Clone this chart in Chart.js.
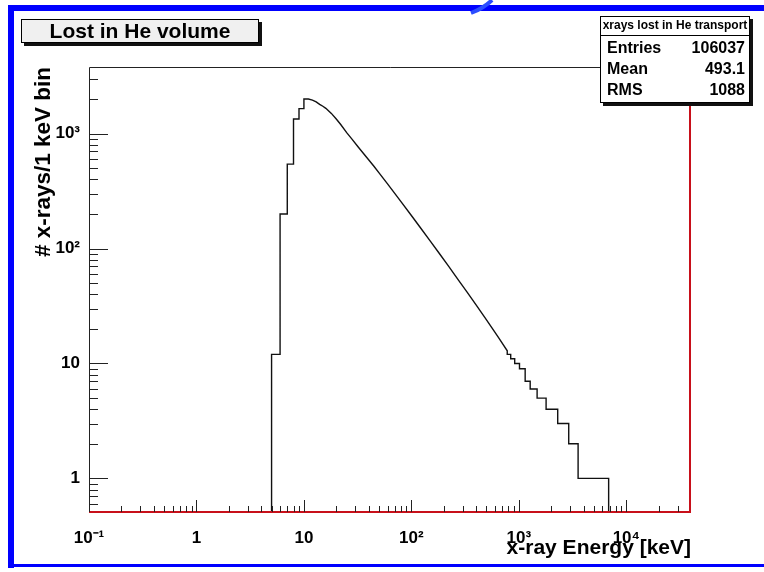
<!DOCTYPE html>
<html>
<head>
<meta charset="utf-8">
<script src="https://cdn.jsdelivr.net/npm/chart.js@4"></script>
<style>
  html, body { margin: 0; padding: 0; background: #fff; }
  #wrap { width: 764px; height: 572px; }
</style>
</head>
<body>
<div id="wrap"><canvas id="canvas" width="764" height="572"></canvas></div>
<script>
// first bins of the spectrum, 1 keV wide (edges in keV, counts per bin)
const lowEdges = [5, 6, 7, 8, 9, 10]
const lowCounts = [12, 200, 543, 1340, 1650]

// smooth falling part (energy in keV, counts per 1 keV bin)
const midEnergy = [10, 11, 12, 13, 14, 15, 16, 18, 20, 22, 25, 28, 32, 36, 40, 45, 50, 60, 70, 80, 100, 120, 150, 180, 220, 270, 330, 400, 480, 560, 650, 780]
const midCounts = [2000, 2000, 1960, 1890, 1800, 1730, 1660, 1500, 1340, 1200, 1020, 895, 765, 668, 592, 518, 456, 365, 302, 256, 194, 154, 116, 92, 71, 54.3, 41.7, 32.3, 25.3, 20.5, 16.7, 12.9]

// high energy tail, flat steps
const tailEdges = [780, 840, 915, 1014, 1145, 1275, 1479, 1793, 2300, 2912, 3560, 6850]
const tailCounts = [12, 11, 10, 9, 7, 6, 5, 4, 3, 2, 1]

const xTicks = [0.1, 1, 10, 100, 1000, 10000]
const xTickLabels = ["10⁻¹", "1", "10", "10²", "10³", "10⁴"]
const yTicks = [1, 10, 100, 1000]
const yTickLabels = ["1", "10", "10²", "10³"]

const histTitle = "Lost in He volume"
const statsTitle = "xrays lost in He transport"
const statsNames = ["Entries", "Mean", "RMS"]
const statsValues = ["106037", "493.1", "1088"]

const FONT = "'Liberation Sans', Arial, Helvetica, sans-serif"
const floorValue = 0.01

// histogram outline as a list of points
const points = []
points.push({x: lowEdges[0], y: floorValue})
for (let i = 0; i < lowCounts.length; i++) {
  points.push({x: lowEdges[i], y: lowCounts[i]})
  points.push({x: lowEdges[i + 1], y: lowCounts[i]})
}
for (let i = 0; i < midEnergy.length; i++)
  points.push({x: midEnergy[i], y: midCounts[i]})
for (let i = 0; i < tailCounts.length; i++) {
  points.push({x: tailEdges[i], y: tailCounts[i]})
  points.push({x: tailEdges[i + 1], y: tailCounts[i]})
}
points.push({x: tailEdges[tailEdges.length - 1], y: floorValue})

function minorValues(min, max) {
  const out = []
  for (let d = Math.floor(Math.log10(min)); d <= Math.ceil(Math.log10(max)); d++)
    for (let m = 2; m <= 9; m++) {
      const v = m * Math.pow(10, d)
      if (v > min && v < max) out.push(v)
    }
  return out
}

const rootStyle = {
  id: "rootStyle",
  beforeDraw(chart) {
    const ctx = chart.ctx
    ctx.save()
    ctx.fillStyle = "#ffffff"
    ctx.fillRect(0, 0, chart.width, chart.height)
    // blue slide border
    ctx.fillStyle = "#0000ff"
    ctx.fillRect(8, 5, 756, 6)
    ctx.fillRect(8, 5, 6, 563)
    ctx.fillRect(8, 564, 756, 3)
    ctx.strokeStyle = "#2b4dff"
    ctx.lineWidth = 4
    ctx.beginPath()
    ctx.moveTo(492, 0)
    ctx.quadraticCurveTo(484, 8, 471, 13)
    ctx.stroke()
    ctx.restore()
  },
  afterDraw(chart) {
    const ctx = chart.ctx
    const {left, right, top, bottom} = chart.chartArea
    const xs = chart.scales.x
    const ys = chart.scales.y
    ctx.save()

    // frame
    ctx.lineWidth = 1
    ctx.strokeStyle = "#222"
    ctx.beginPath()
    ctx.moveTo(left + 0.5, bottom)
    ctx.lineTo(left + 0.5, top + 0.5)
    ctx.lineTo(right, top + 0.5)
    ctx.stroke()
    ctx.strokeStyle = "#c8101a"
    ctx.lineWidth = 2
    ctx.beginPath()
    ctx.moveTo(right - 1, top)
    ctx.lineTo(right - 1, bottom - 1)
    ctx.lineTo(left, bottom - 1)
    ctx.stroke()

    // ticks pointing into the frame
    ctx.lineWidth = 1
    ctx.strokeStyle = "#222"
    ctx.beginPath()
    for (const v of xTicks) {
      const px = Math.round(xs.getPixelForValue(v)) + 0.5
      ctx.moveTo(px, bottom - 1); ctx.lineTo(px, bottom - 13)
    }
    for (const v of minorValues(xs.min, xs.max)) {
      const px = Math.round(xs.getPixelForValue(v)) + 0.5
      ctx.moveTo(px, bottom - 1); ctx.lineTo(px, bottom - 7)
    }
    for (const v of yTicks) {
      const py = Math.round(ys.getPixelForValue(v)) + 0.5
      ctx.moveTo(left, py); ctx.lineTo(left + 19, py)
    }
    for (const v of minorValues(ys.min, ys.max)) {
      const py = Math.round(ys.getPixelForValue(v)) + 0.5
      ctx.moveTo(left, py); ctx.lineTo(left + 9, py)
    }
    ctx.stroke()

    // title box
    ctx.fillStyle = "#111"
    ctx.fillRect(24, 22, 238, 24)
    ctx.fillStyle = "#f0f0f0"
    ctx.fillRect(21, 19, 238, 24)
    ctx.strokeStyle = "#000"
    ctx.strokeRect(21.5, 19.5, 237, 23)
    ctx.fillStyle = "#000"
    ctx.font = "bold 21px " + FONT
    ctx.textAlign = "center"
    ctx.textBaseline = "middle"
    ctx.fillText(histTitle, 140, 32)

    // statistics box
    ctx.fillStyle = "#111"
    ctx.fillRect(603, 19, 150, 87)
    ctx.fillStyle = "#fff"
    ctx.fillRect(600, 16, 150, 87)
    ctx.strokeRect(600.5, 16.5, 149, 86)
    ctx.beginPath()
    ctx.moveTo(600, 35.5); ctx.lineTo(750, 35.5)
    ctx.stroke()
    ctx.fillStyle = "#000"
    ctx.font = "bold 12px " + FONT
    ctx.fillText(statsTitle, 675, 26)
    ctx.font = "bold 16px " + FONT
    statsNames.forEach((name, i) => {
      const y = 49 + i * 21
      ctx.textAlign = "left"
      ctx.fillText(name, 607, y)
      ctx.textAlign = "right"
      ctx.fillText(statsValues[i], 745, y)
    })
    ctx.restore()
  }
}

new Chart(document.getElementById("canvas"), {
  type: "line",
  data: {
    datasets: [{
      data: points,
      borderColor: "#111",
      borderWidth: 1.4,
      pointRadius: 0,
      tension: 0,
      fill: false
    }]
  },
  options: {
    responsive: false,
    animation: false,
    devicePixelRatio: 1,
    layout: { padding: { left: 0, top: 67, right: 73, bottom: 0 } },
    plugins: { legend: { display: false }, tooltip: { enabled: false } },
    scales: {
      x: {
        type: "logarithmic",
        position: "bottom",
        min: 0.1,
        max: 40000,
        afterBuildTicks: s => { s.ticks = xTicks.map(v => ({value: v})) },
        afterFit: s => { s.height = 59 },
        grid: { display: false, drawTicks: false },
        border: { display: false },
        ticks: {
          autoSkip: false, maxRotation: 0, padding: 15, color: "#000",
          font: { family: FONT, weight: "bold", size: 17 },
          callback: (v, i) => xTickLabels[i]
        },
        title: {
          display: true, text: "x-ray Energy [keV]", align: "end", color: "#000",
          font: { family: FONT, weight: "bold", size: 21 },
          padding: { top: 0, bottom: 11 }
        }
      },
      y: {
        type: "logarithmic",
        position: "left",
        min: 0.5,
        max: 3800,
        afterBuildTicks: s => { s.ticks = yTicks.map(v => ({value: v})) },
        afterFit: s => { s.width = 89 },
        grid: { display: false, drawTicks: false },
        border: { display: false },
        ticks: {
          autoSkip: false, padding: 9, color: "#000",
          font: { family: FONT, weight: "bold", size: 17 },
          callback: (v, i) => yTickLabels[i]
        },
        title: {
          display: true, text: "# x-rays/1 keV bin", align: "end", color: "#000",
          font: { family: FONT, weight: "bold", size: 22.5 },
          padding: { top: 30, bottom: 0 }
        }
      }
    }
  },
  plugins: [rootStyle]
})
</script>
</body>
</html>
